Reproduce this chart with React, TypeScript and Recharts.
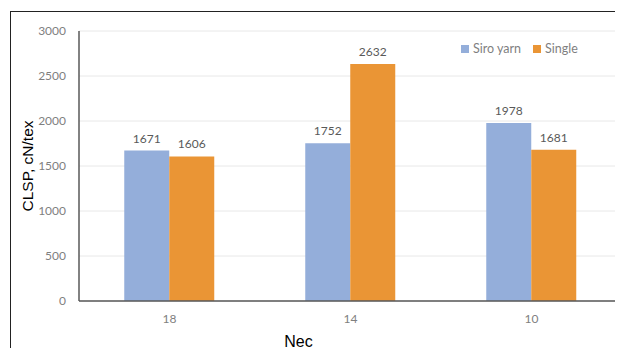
import { BarChart, Bar, XAxis, YAxis, CartesianGrid, LabelList, Label } from "recharts"

// yarn count (Nec) on the x axis
const counts = ["18", "14", "10"]
const siroYarn = [1671, 1752, 1978]
const single = [1606, 2632, 1681]
const yTicks = [0, 500, 1000, 1500, 2000, 2500, 3000]

const BLUE = "#94AEDA"
const ORANGE = "#EA9535"
const tickFont = "Lato, 'Open Sans', sans-serif"
const titleFont = "'Liberation Sans', Arial, sans-serif"

const data = counts.map((name, i) => ({ name, siro: siroYarn[i], single: single[i] }))

// legend sits inside the plot, top right
const LegendBox = () => (
  <div
    style={{
      position: "absolute",
      left: 459,
      top: 41,
      display: "flex",
      alignItems: "center",
      fontFamily: tickFont,
      fontSize: 12.5,
      color: "#7f7f7f",
      background: "#fff",
      padding: "0 2px",
    }}
  >
    <span style={{ width: 8, height: 8, background: BLUE, marginRight: 4 }} />
    <span style={{ marginRight: 12 }}>Siro yarn</span>
    <span style={{ width: 8, height: 8, background: ORANGE, marginRight: 4 }} />
    <span>Single</span>
  </div>
)

export default function App() {
  return (
    <div style={{ position: "relative", width: 623, height: 356, margin: -8, overflow: "hidden", background: "#fff" }}>
      <div
        style={{
          position: "absolute",
          left: 10,
          top: 11,
          width: 700,
          height: 400,
          border: "1.5px solid #222",
        }}
      />
      <BarChart
        width={623}
        height={356}
        data={data}
        margin={{ top: 31, right: 1, bottom: 25, left: 0 }}
        barGap={0}
        barCategoryGap="25%"
        style={{ position: "absolute", left: 0, top: 0 }}
      >
        <CartesianGrid vertical={false} stroke="#e8e8e8" strokeWidth={1} />
        <XAxis
          dataKey="name"
          height={30}
          tickLine={false}
          axisLine={{ stroke: "#595959", strokeWidth: 1.5 }}
          tick={{ fill: "#7f7f7f", fontSize: 12, fontFamily: tickFont }}
          tickMargin={7}
        >
          <Label
            value="Nec"
            position="bottom"
            dx={-52}
            dy={0}
            style={{ fill: "#000", fontSize: 16, fontFamily: titleFont }}
          />
        </XAxis>
        <YAxis
          width={79}
          domain={[0, 3000]}
          ticks={yTicks}
          tickLine={false}
          axisLine={{ stroke: "#595959", strokeWidth: 1.5 }}
          tick={{ fill: "#7f7f7f", fontSize: 12, fontFamily: tickFont }}
          tickMargin={7}
        >
          <Label
            value="CLSP, cN/tex"
            angle={-90}
            position="insideLeft"
            dx={22}
            dy={0}
            style={{ textAnchor: "middle", fill: "#000", fontSize: 15.5, fontFamily: titleFont }}
          />
        </YAxis>
        <Bar dataKey="siro" name="Siro yarn" fill={BLUE} isAnimationActive={false}>
          <LabelList dataKey="siro" position="top" offset={8} style={{ fill: "#595959", fontSize: 12, fontFamily: tickFont }} />
        </Bar>
        <Bar dataKey="single" name="Single" fill={ORANGE} isAnimationActive={false}>
          <LabelList dataKey="single" position="top" offset={8} style={{ fill: "#595959", fontSize: 12, fontFamily: tickFont }} />
        </Bar>
      </BarChart>
      <LegendBox />
    </div>
  )
}
